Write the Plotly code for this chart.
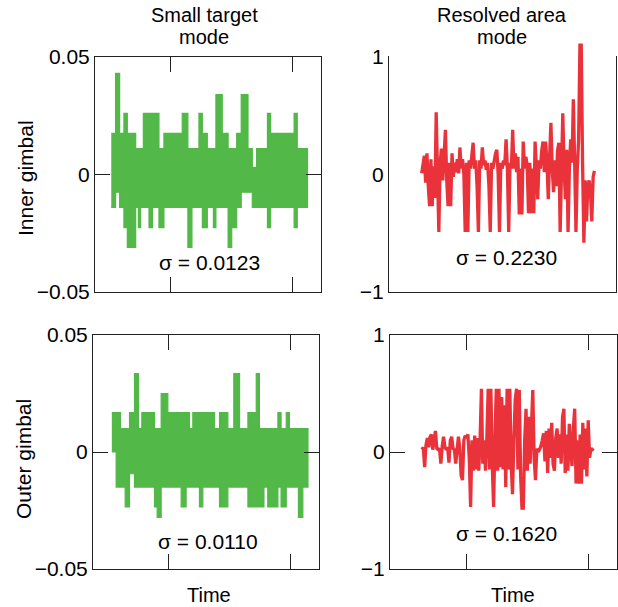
import numpy as np
import plotly.graph_objects as go

# ---------------- data ----------------
# Small target mode, inner gimbal: step segments (start times, final end time) with upper/lower envelope
tl_t = [7.2, 9.1, 10.9, 12.8, 14.3, 18.0, 19.2, 20.2, 21.4, 23.9, 25.4, 28.3, 30.5, 38.6, 41.1, 42.9,
        46.0, 47.5, 49.7, 52.4, 53.5, 56.3, 58.9, 60.5, 62.7, 64.7, 67.7, 69.6, 71.5, 76.3, 77.7, 82.2,
        88.1, 89.5, 94.3]
tl_hi = [0.0175, 0.043, 0.0175, 0.026, 0.0175, 0.011, 0.011, 0.011, 0.026, 0.026, 0.026, 0.011, 0.0175,
         0.026, 0.011, 0.011, 0.026, 0.0175, 0.011, 0.011, 0.034, 0.0175, 0.011, 0.011, 0.0175, 0.034,
         0.011, 0.003, 0.011, 0.026, 0.0175, 0.0175, 0.026, 0.011]
tl_lo = [-0.014, -0.0075, -0.014, -0.0226, -0.031, -0.014, -0.0226, -0.014, -0.014, -0.0226, -0.014,
         -0.0226, -0.014, -0.014, -0.031, -0.014, -0.014, -0.0226, -0.014, -0.0226, -0.014, -0.014,
         -0.031, -0.0226, -0.014, -0.0075, -0.0075, -0.014, -0.014, -0.0226, -0.014, -0.014, -0.0226,
         -0.014]

# Small target mode, outer gimbal
bl_t = [8.35, 10.27, 12.2, 14.27, 16.19, 18.4, 20.18, 21.66, 27.27, 28.46, 30.23, 33.19, 39.1, 41.3,
        42.8, 44.27, 47.2, 48.7, 53.9, 56.1, 59.8, 62.45, 65.0, 68.7, 72.4, 73.8, 75.8, 77.5, 82.0,
        83.4, 85.7, 87.1, 91.1, 93.05, 95.6]
bl_hi = [0.0168, 0.0168, 0.010, 0.010, 0.0168, 0.0335, 0.010, 0.0168, 0.010, 0.010, 0.025, 0.0168,
         0.0168, 0.0168, 0.010, 0.0168, 0.0168, 0.0168, 0.010, 0.0168, 0.010, 0.0335, 0.010, 0.0168,
         0.0335, 0.010, 0.010, 0.010, 0.0168, 0.010, 0.0168, 0.010, 0.010, 0.010]
bl_lo = [0.0, -0.015, -0.015, -0.0235, -0.0093, -0.015, -0.015, -0.015, -0.0235, -0.028, -0.015,
         -0.015, -0.0235, -0.015, -0.015, -0.015, -0.0235, -0.015, -0.015, -0.0235, -0.015, -0.015,
         -0.015, -0.0235, -0.0235, -0.0235, -0.015, -0.0235, -0.015, -0.0235, -0.015, -0.015, -0.028,
         -0.015]

# Resolved area mode, inner gimbal (uniformly sampled)
tr_span = [14.4, 90.5]
tr_v = [0.01, 0.10, 0.16, -0.07, 0.18, -0.10, -0.27, 0.13, -0.27, 0.07, -0.20, 0.53, -0.10, -0.49,
        0.10, 0.22, -0.05, 0.22, 0.38, -0.05, -0.27, 0.10, -0.27, 0.18, -0.02, 0.10, 0.02, 0.13, 0.01,
        0.23, 0.05, 0.13, 0.00, -0.49, 0.10, -0.49, 0.12, 0.05, 0.15, 0.27, 0.05, 0.12, -0.10, -0.49,
        0.12, 0.05, 0.23, 0.08, 0.12, 0.04, 0.10, -0.10, -0.49, 0.10, 0.05, 0.12, 0.18, 0.21, 0.00,
        -0.49, 0.10, 0.05, 0.12, 0.08, 0.30, 0.05, -0.49, 0.10, 0.05, 0.38, 0.05, 0.18, 0.02, 0.15,
        -0.34, 0.05, -0.34, 0.28, 0.05, 0.15, 0.08, -0.33, 0.10, -0.33, 0.05, -0.33, 0.28, 0.05, -0.21,
        0.12, 0.05, 0.20, 0.28, 0.02, 0.28, 0.10, -0.21, 0.15, 0.44, 0.05, -0.15, 0.12, -0.10, 0.20,
        0.27, -0.49, 0.10, 0.52, 0.05, -0.21, 0.21, -0.49, 0.05, 0.30, 0.10, 0.64, 0.10, -0.49, 0.05,
        0.30, 1.10, 1.10, 0.10, -0.58, -0.05, -0.40, -0.10, -0.05, -0.15, -0.40, -0.02, 0.03]

# Resolved area mode, outer gimbal (uniformly sampled)
br_span = [14.1, 89.9]
br_v = [0.02, 0.04, -0.13, 0.06, 0.12, 0.04, 0.13, 0.15, 0.02, 0.10, 0.18, 0.03, 0.02, 0.03, -0.10,
        0.05, 0.13, 0.04, 0.02, 0.04, -0.09, 0.10, 0.13, 0.03, 0.02, -0.10, 0.05, 0.13, 0.03, -0.20,
        -0.24, 0.10, 0.14, 0.12, 0.15, -0.05, -0.47, 0.10, -0.16, 0.14, -0.15, 0.12, -0.16, 0.10, 0.54,
        -0.10, 0.10, -0.16, 0.12, 0.54, -0.15, 0.54, -0.10, -0.47, 0.10, 0.54, -0.16, 0.54, -0.13, 0.47,
        -0.15, 0.40, -0.30, 0.54, -0.15, 0.54, -0.10, -0.36, 0.10, 0.45, 0.54, -0.15, 0.53, -0.20,
        -0.48, -0.48, 0.10, 0.37, -0.16, 0.30, -0.10, 0.25, 0.53, -0.05, -0.24, 0.03, 0.00, 0.02, 0.05,
        0.10, 0.16, -0.08, 0.18, -0.18, 0.20, -0.05, 0.25, -0.10, -0.16, 0.12, 0.20, -0.05, 0.15,
        -0.10, 0.30, 0.37, -0.18, 0.15, -0.16, 0.24, 0.10, -0.12, 0.20, 0.37, -0.27, 0.10, -0.27, 0.15,
        -0.27, 0.25, -0.15, 0.20, -0.21, 0.27, -0.05, 0.03, 0.02, 0.03]

col_titles = [["Small target", "mode"], ["Resolved area", "mode"]]
row_titles = ["Inner gimbal", "Outer gimbal"]
sigma_labels = ["σ = 0.0123", "σ = 0.2230", "σ = 0.0110", "σ = 0.1620"]
left_ticks = [-0.05, 0, 0.05]
left_ticktext = ["\u22120.05", "0", "0.05"]
right_ticks = [-1, 0, 1]
right_ticktext = ["\u22121", "0", "1"]
time_ticks = [33.6, 87.5]

GREEN = "rgb(82,184,72)"
RED = "rgb(233,50,58)"
FONT = "Liberation Sans, Arial, sans-serif"

W, H = 618, 607

fig = go.Figure()


def band(t, hi, lo, xa, ya):
    y_hi = list(hi) + [hi[-1]]
    y_lo = list(lo) + [lo[-1]]
    fig.add_trace(go.Scatter(x=t, y=y_lo, mode="lines", line=dict(color=GREEN, width=1.2, shape="hv"),
                             xaxis=xa, yaxis=ya, showlegend=False, hoverinfo="skip"))
    fig.add_trace(go.Scatter(x=t, y=y_hi, mode="lines", line=dict(color=GREEN, width=1.2, shape="hv"),
                             fill="tonexty", fillcolor=GREEN,
                             xaxis=xa, yaxis=ya, showlegend=False, hoverinfo="skip"))


def series(span, v, xa, ya):
    t = np.linspace(span[0], span[1], len(v))
    fig.add_trace(go.Scatter(x=t, y=v, mode="lines", line=dict(color=RED, width=3.3),
                             xaxis=xa, yaxis=ya, showlegend=False, hoverinfo="skip"))


band(tl_t, tl_hi, tl_lo, "x", "y")
# empty trace so that the x2/y2 frame and tick labels are drawn
fig.add_trace(go.Scatter(x=[None], y=[None], mode="lines", xaxis="x2", yaxis="y2",
                         showlegend=False, hoverinfo="skip"))
# the inner-gimbal red trace overshoots the frame top; it is drawn on an invisible overlay
# axis with the same scale but a taller clip area
series(tr_span, tr_v, "x2", "y5")
band(bl_t, bl_hi, bl_lo, "x3", "y3")
series(br_span, br_v, "x4", "y4")


def px_dom_x(a, b):
    return [a / W, b / W]


def px_dom_y(top, bottom):
    return [1 - bottom / H, 1 - top / H]


axis_line = dict(showline=True, mirror="ticks", linecolor="#222", linewidth=1, ticks="inside",
                 ticklen=15, tickwidth=1, tickcolor="#222", showgrid=False, zeroline=False,
                 automargin=False)


def xaxis(dom, anchor):
    return dict(domain=dom, anchor=anchor, range=[0, 100], tickvals=time_ticks, showticklabels=False,
                **axis_line)


def yaxis(dom, anchor, rng, tv, tt):
    return dict(domain=dom, anchor=anchor, range=rng, tickvals=tv, ticktext=tt,
                tickfont=dict(family=FONT, size=21, color="black"), **axis_line)


TOP_T, TOP_B = 57, 292
OVER_T = 42
over_top = 1 + (TOP_T - OVER_T) / ((TOP_B - TOP_T) / 2)

fig.update_layout(
    template="none",
    width=W, height=H, margin=dict(l=0, r=0, t=0, b=0, pad=0, autoexpand=False),
    paper_bgcolor="white", plot_bgcolor="white",
    xaxis=xaxis(px_dom_x(95, 321), "y"),
    yaxis=yaxis(px_dom_y(TOP_T, TOP_B), "x", [-0.05, 0.05], left_ticks, left_ticktext),
    xaxis2=xaxis(px_dom_x(389, 616), "y2"),
    yaxis2=yaxis(px_dom_y(TOP_T, TOP_B), "x2", [-1, 1], right_ticks, right_ticktext),
    xaxis3=xaxis(px_dom_x(93, 318.5), "y3"),
    yaxis3=yaxis(px_dom_y(335, 569), "x3", [-0.05, 0.05], left_ticks, left_ticktext),
    xaxis4=xaxis(px_dom_x(390, 616.5), "y4"),
    yaxis4=yaxis(px_dom_y(335, 569), "x4", [-1, 1], right_ticks, right_ticktext),
    yaxis5=dict(domain=px_dom_y(OVER_T, TOP_B), anchor="x2", range=[-1, over_top], visible=False,
                showgrid=False, zeroline=False, automargin=False),
)

ann = []


def txt(text, x, y, size=20, angle=0):
    ann.append(dict(text=text, x=x / W, y=1 - y / H, xref="paper", yref="paper", showarrow=False,
                    xanchor="center", yanchor="middle", textangle=angle, borderpad=0,
                    font=dict(family=FONT, size=size, color="black")))


# column titles
txt(col_titles[0][0], 204, 14.6, 20)
txt(col_titles[0][1], 204, 37.1, 20)
txt(col_titles[1][0], 502, 14.6, 20)
txt(col_titles[1][1], 502, 37.1, 20)
# row titles
txt(row_titles[0], 25, 178, 21, angle=-90)
txt(row_titles[1], 24, 459, 21, angle=-90)
# sigma labels
txt(sigma_labels[0], 209, 263, 21)
txt(sigma_labels[1], 506, 257, 21)
txt(sigma_labels[2], 208, 541, 21)
txt(sigma_labels[3], 506, 533, 21)
# time labels
txt("Time", 209, 595, 20)
txt("Time", 513, 595, 20)

fig.update_layout(annotations=ann)
fig.write_html("out.html", config={"displayModeBar": False},
               post_script="document.body.style.margin='0';document.body.style.overflow='hidden';")
